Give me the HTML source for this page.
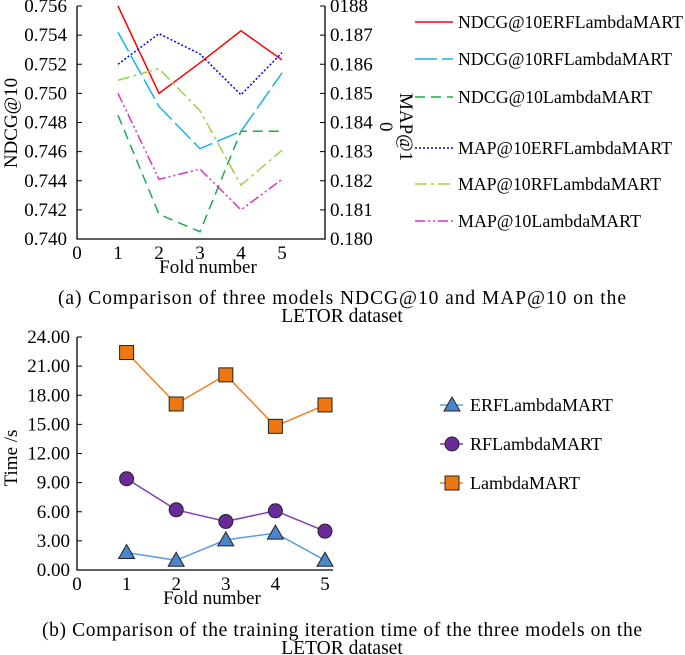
<!DOCTYPE html>
<html><head><meta charset="utf-8"><style>
body{margin:0;background:#fff;}
svg{display:block;font-family:"Liberation Serif",serif;}
</style></head><body>
<svg id="s" width="685" height="655" viewBox="0 0 685 655" xmlns="http://www.w3.org/2000/svg">
<text x="342" y="304" font-size="19.5" text-anchor="middle" textLength="568">(a) Comparison of three models NDCG@10 and MAP@10 on the</text>
<text x="342" y="322" font-size="19.5" text-anchor="middle">LETOR dataset</text>
<text x="342" y="636" font-size="19.5" text-anchor="middle" textLength="600">(b) Comparison of the training iteration time of the three models on the</text>
<text x="342" y="654" font-size="19.5" text-anchor="middle">LETOR dataset</text>
</svg>
<script>
const folds=[1,2,3,4,5];
const ndcgERF=[0.7560,0.7500,0.7521,0.7543,0.7523];
const ndcgRF=[0.7542,0.7491,0.7462,0.7474,0.7514];
const ndcgLM=[0.7485,0.7417,0.7405,0.7474,0.7474];
const mapERF=[0.1860,0.18705,0.18635,0.18495,0.1864];
const mapRF=[0.18545,0.18585,0.1844,0.18185,0.18305];
const mapLM=[0.1850,0.18205,0.1824,0.1810,0.18205];
const leftTicks=["0.740","0.742","0.744","0.746","0.748","0.750","0.752","0.754","0.756"];
const rightTicks=["0.180","0.181","0.182","0.183","0.184","0.185","0.186","0.187","0188"];
const timeERF=[1.8,1.0,3.1,3.8,1.0];
const timeRF=[9.4,6.2,5.0,6.1,4.0];
const timeLM=[22.4,17.1,20.1,14.8,17.0];
const timeTicks=["0.00","3.00","6.00","9.00","12.00","15.00","18.00","21.00","24.00"];

const S=document.getElementById('s');const NS="http://www.w3.org/2000/svg";
function mk(t,a,txt){const e=document.createElementNS(NS,t);for(const k in a)e.setAttribute(k,a[k]);if(txt!==undefined)e.textContent=txt;S.appendChild(e);return e;}
const FS=19;

// chart a
const ax=v=>77+v*(323-77)/6;
const ly=v=>239-(v-0.740)/0.016*233;
const ry=v=>239-(v-0.180)/0.008*233;
let e=mk('path',{d:'M77,6 V239 H325 V6',fill:'none',stroke:'#000','stroke-width':1.3});

leftTicks.forEach((t,i)=>{const v=0.740+i*0.002;const y=ly(v);
 mk('line',{x1:77,x2:82,y1:y,y2:y,stroke:'#000'});
 e=mk('text',{x:67,y:y+6,'font-size':FS,'text-anchor':'end'},t);
 });
rightTicks.forEach((t,i)=>{const v=0.180+i*0.001;const y=ry(v);
 mk('line',{x1:320,x2:325,y1:y,y2:y,stroke:'#000'});
 e=mk('text',{x:330,y:y+6,'font-size':FS},t);
 });
[0,1,2,3,4,5].forEach(i=>{e=mk('text',{x:ax(i),y:259,'font-size':FS,'text-anchor':'middle'},String(i));
 });
e=mk('text',{x:208,y:273,'font-size':FS,'text-anchor':'middle'},'Fold number');

e=mk('text',{x:0,y:0,'font-size':FS,'text-anchor':'middle',transform:'translate(17,123) rotate(-90)'},'NDCG@10');

e=mk('text',{x:0,y:0,'font-size':FS,transform:'translate(400,93) rotate(90)'},'MAP@1');

e=mk('text',{x:0,y:0,'font-size':FS,transform:'translate(380,122) rotate(90)'},'0');


const seriesA=[
 {d:ndcgERF,y:ly,c:'#ff0000',da:'',n:'NDCG@10ERFLambdaMART',k:'ndcg-erf',w:225},
 {d:ndcgRF,y:ly,c:'#1ab2ec',da:'22,5',n:'NDCG@10RFLambdaMART',k:'ndcg-rf',w:214},
 {d:ndcgLM,y:ly,c:'#1faa4e',da:'10,6',n:'NDCG@10LambdaMART',k:'ndcg-lm',w:194},
 {d:mapERF,y:ry,c:'#0000ff',da:'2,2',n:'MAP@10ERFLambdaMART',k:'map-erf',w:214},
 {d:mapRF,y:ry,c:'#99d34a',da:'12,4,3,4',n:'MAP@10RFLambdaMART',k:'map-rf',w:203},
 {d:mapLM,y:ry,c:'#e033b8',da:'10,3,2,3,2,3',n:'MAP@10LambdaMART',k:'map-lm',w:183}];
const legY=[22,59,97,148,184,221];
seriesA.forEach((s,i)=>{
 const pts=s.d.map((v,j)=>ax(folds[j])+','+s.y(v)).join(' ');
 e=mk('polyline',{points:pts,fill:'none',stroke:s.c,'stroke-width':1.5,'stroke-dasharray':s.da});
 
 e=mk('line',{x1:415,x2:453,y1:legY[i],y2:legY[i],stroke:s.c,'stroke-width':1.5,'stroke-dasharray':s.da});
 
 e=mk('text',{x:458,y:legY[i]+6,'font-size':18,textLength:s.w,lengthAdjust:'spacingAndGlyphs'},s.n);
 
});

// chart b
const bx=v=>77+v*(325-77)/5;
const by=v=>570-v/24*233;
e=mk('path',{d:'M77,337 V570 H333',fill:'none',stroke:'#000','stroke-width':1.3});

timeTicks.forEach((t,i)=>{const y=by(i*3);
 mk('line',{x1:77,x2:82,y1:y,y2:y,stroke:'#000'});
 e=mk('text',{x:70,y:y+6,'font-size':FS,'text-anchor':'end'},t);
 });
[0,1,2,3,4,5].forEach(i=>{e=mk('text',{x:bx(i),y:590,'font-size':FS,'text-anchor':'middle'},String(i));
 });
e=mk('text',{x:212,y:604,'font-size':FS,'text-anchor':'middle'},'Fold number');

e=mk('text',{x:0,y:0,'font-size':FS,'text-anchor':'middle',transform:'translate(17,458) rotate(-90)'},'Time /s');


function marker(kind,x,y,fill,name){
 let m;
 if(kind==='tri') m=mk('polygon',{points:`${x},${y-8} ${x-8},${y+6} ${x+8},${y+6}`,fill:fill,stroke:'#222','stroke-width':1});
 else if(kind==='circ') m=mk('circle',{cx:x,cy:y,r:7,fill:fill,stroke:'#222','stroke-width':1});
 else m=mk('rect',{x:x-7,y:y-7,width:14,height:14,fill:fill,stroke:'#222','stroke-width':1});
 
 
}
const seriesB=[
 {d:timeERF,c:'#5b9be0',f:'#4a86cc',m:'tri',n:'ERFLambdaMART',k:'erf'},
 {d:timeRF,c:'#8040b0',f:'#6a2a9a',m:'circ',n:'RFLambdaMART',k:'rf'},
 {d:timeLM,c:'#f08020',f:'#ee7711',m:'sq',n:'LambdaMART',k:'lm'}];
const legYB=[405,444,483];
seriesB.forEach((s,i)=>{
 const pts=s.d.map((v,j)=>bx(folds[j])+','+by(v)).join(' ');
 e=mk('polyline',{points:pts,fill:'none',stroke:s.c,'stroke-width':1.5});
 
 s.d.forEach((v,j)=>marker(s.m,bx(folds[j]),by(v),s.f,'point-'+s.k));
 e=mk('line',{x1:440,x2:463,y1:legYB[i],y2:legYB[i],stroke:s.c,'stroke-width':1.5});
 
 marker(s.m,452,legYB[i],s.f,'legend-marker-'+s.k);
 e=mk('text',{x:470,y:legYB[i]+6,'font-size':18},s.n);
 
});
</script>
</body></html>
